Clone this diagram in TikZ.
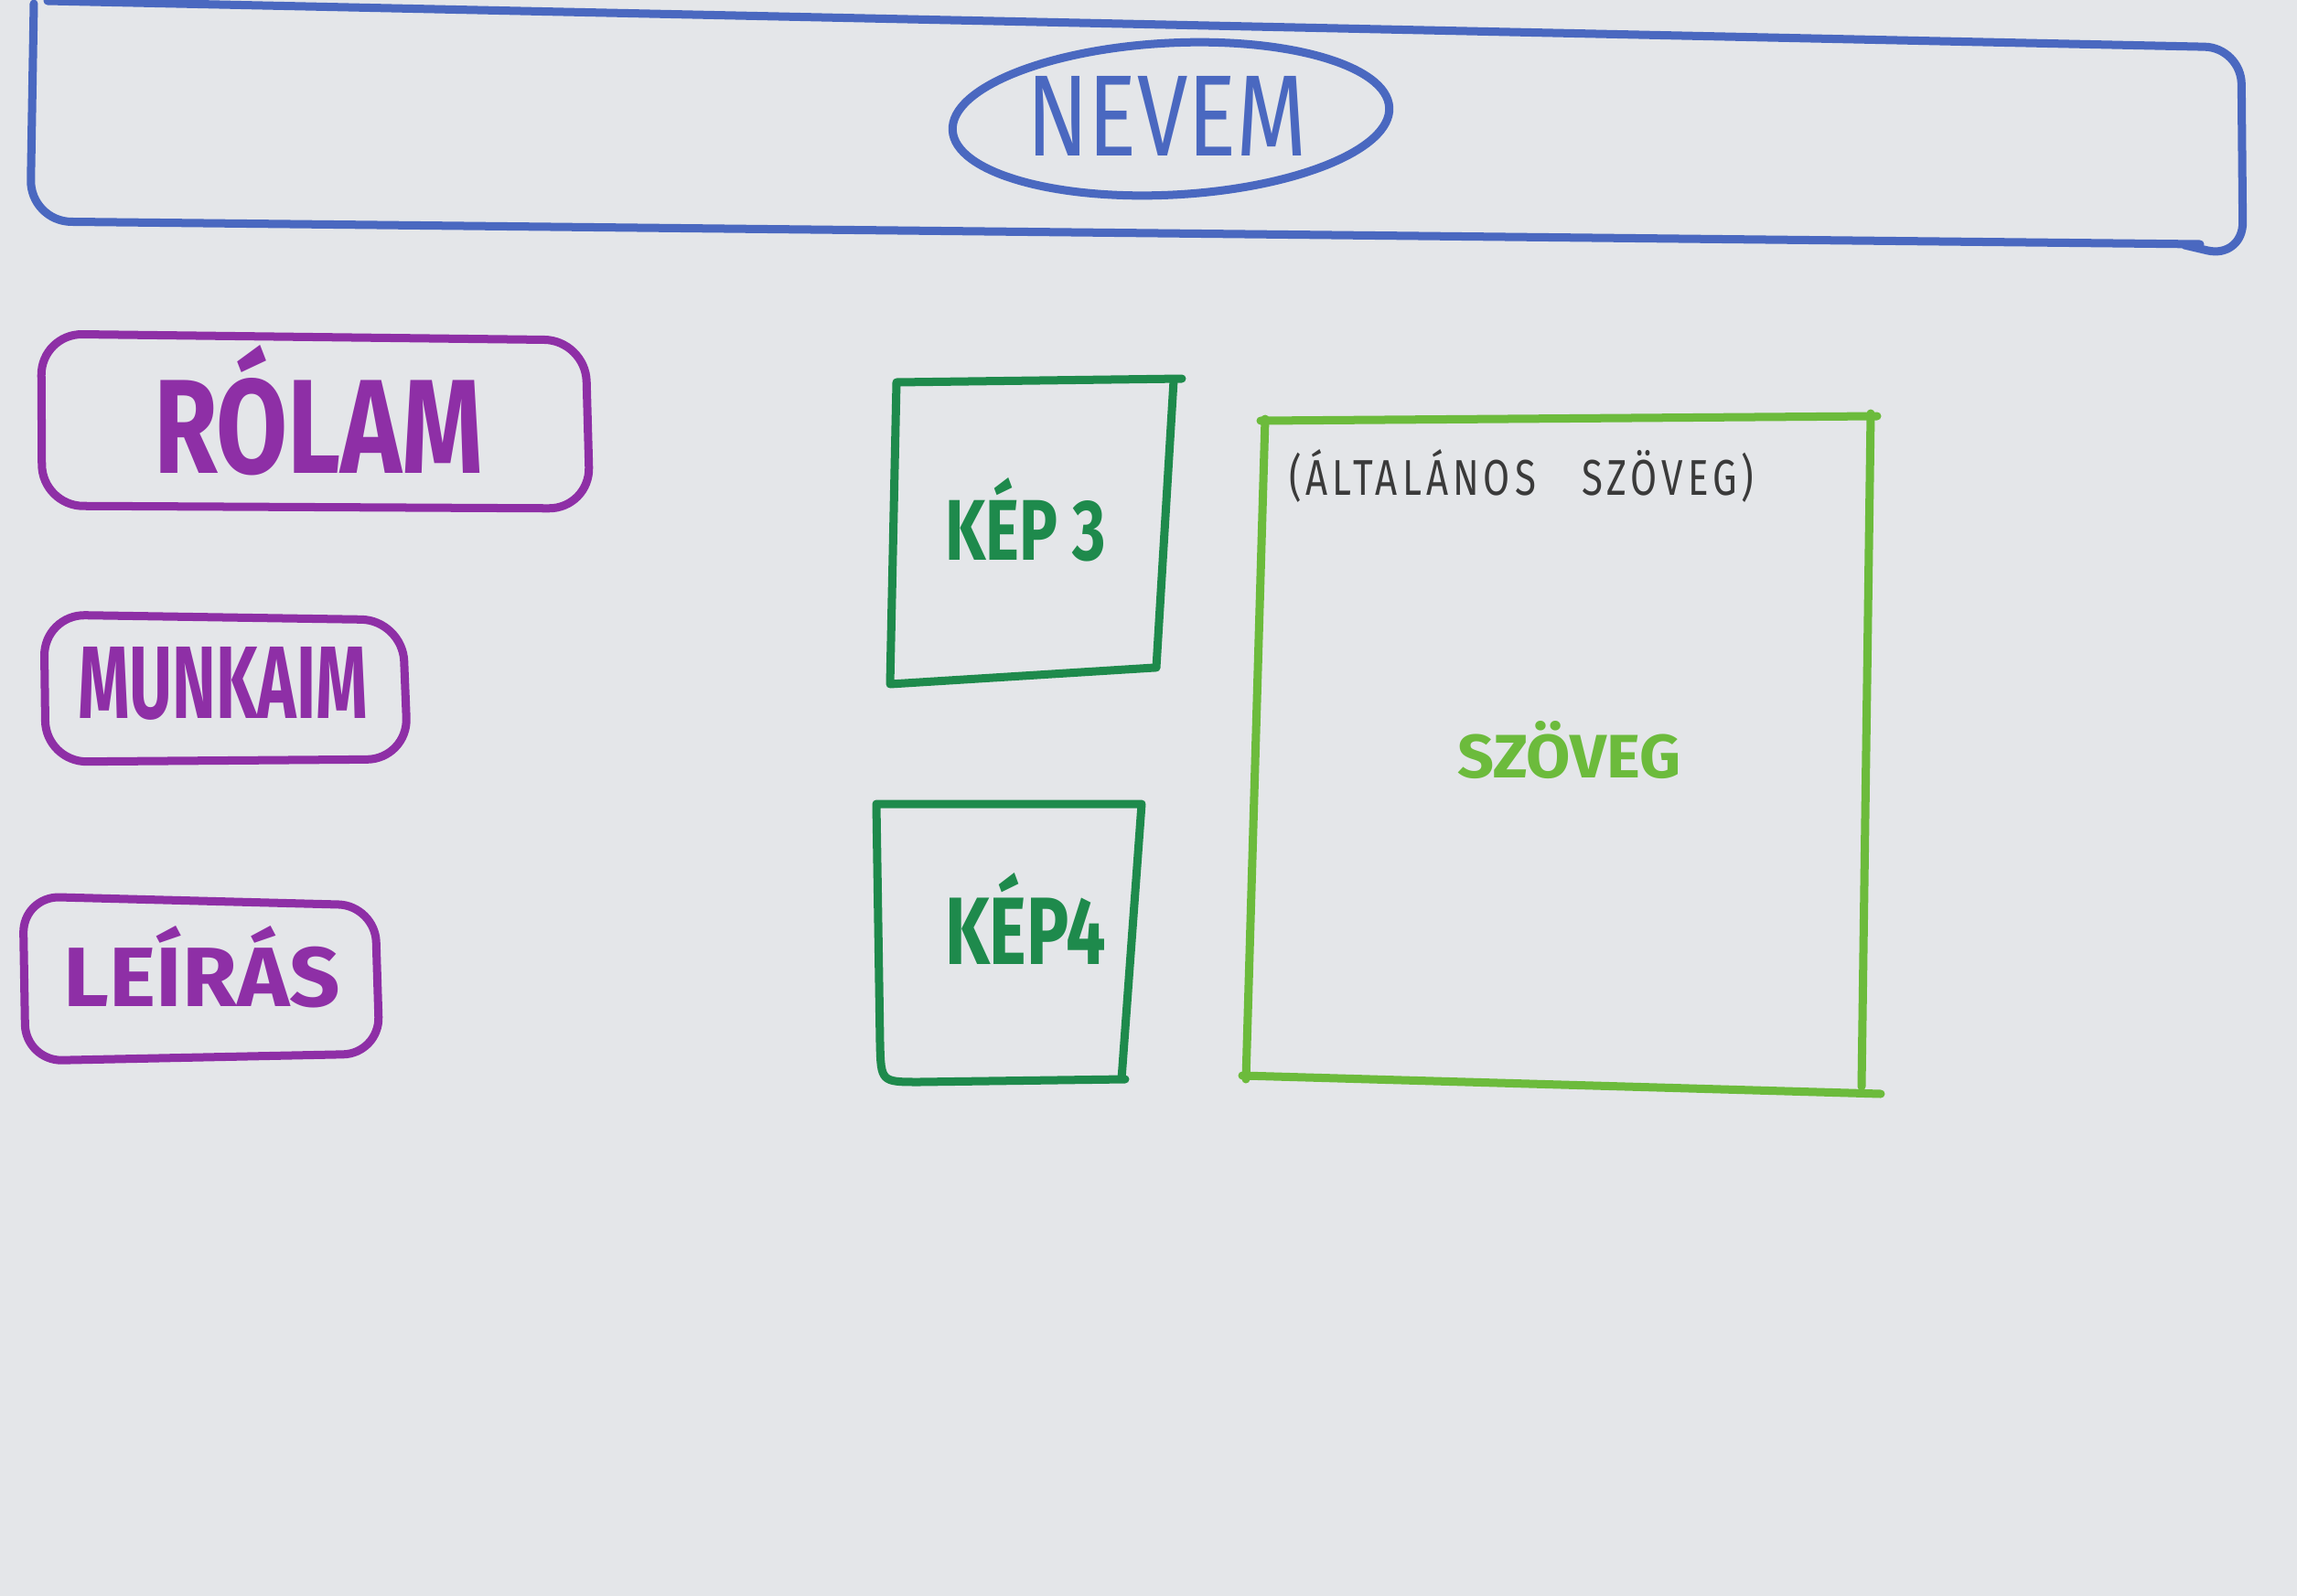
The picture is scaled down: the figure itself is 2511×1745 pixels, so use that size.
\documentclass[tikz,border=0pt]{standalone}
\usepackage{fontspec}
\setmainfont{Fira Sans}
\usepackage{graphicx}
\definecolor{paper}{HTML}{E4E6E9}
\definecolor{hblue}{HTML}{4A68C0}
\definecolor{mpurple}{HTML}{8E2FA6}
\definecolor{kgreen}{HTML}{1E8A4C}
\definecolor{lgreen}{HTML}{6CBB3C}
\definecolor{penink}{HTML}{3A3A3A}
\begin{document}
\begin{tikzpicture}[x=0.01cm,y=-0.01cm,
  pen/.style={line width=0.09cm, line cap=round, line join=round},
  blueline/.style={pen, draw=hblue},
  menubox/.style={pen, draw=mpurple},
  kepbox/.style={pen, draw=kgreen},
  txtbox/.style={pen, draw=lgreen},
  lbl/.style={inner sep=0pt, outer sep=0pt, anchor=base west}]
\useasboundingbox (0,0) rectangle (2511,1745);
\fill[paper] (0,0) rectangle (2511,1745);

% header
\draw[blueline, rounded corners=0.4cm] (52,1) -- (2450,52) -- (2452,283) -- (2388,268);
\draw[blueline, rounded corners=0.45cm] (37,4) -- (33,242) -- (2405,267);
\draw[blueline, rotate around={3:(1280,130)}] (1280,130) ellipse [x radius=239, y radius=83];
\node[lbl, text=hblue] (nevem) at (1122,170) {\resizebox{3.07cm}{0.87cm}{NEVEM}};

% menu
\draw[menubox, rounded corners=0.45cm] (45,365) -- (640,372) -- (645,556) -- (46,553) -- cycle;
\node[lbl, text=mpurple] (rolam) at (168,517) {\resizebox{3.60cm}{1.40cm}{\bfseries RÓLAM}};
\draw[menubox, rounded corners=0.45cm] (48,672) -- (440,678) -- (446,830) -- (50,833) -- cycle;
\node[lbl, text=mpurple] (munkaim) at (85,785) {\resizebox{3.17cm}{0.78cm}{\bfseries MUNKAIM}};
\draw[menubox, rounded corners=0.4cm] (25,980) -- (410,990) -- (415,1152) -- (28,1160) -- cycle;
\node[lbl, text=mpurple] (leiras) at (70,1100) {\resizebox{3.02cm}{0.88cm}{\bfseries LEÍRÁS}};

% images
\draw[kepbox] (1292,414) -- (980,418) -- (973,748) -- (1262,730);
\draw[kepbox] (1283,416) -- (1264,730);
\node[lbl, text=kgreen] (kep3) at (1033,612) {\resizebox{1.76cm}{0.90cm}{\bfseries KÉP 3}};
\draw[kepbox] (1226,1180) -- (1248,879) -- (958,879) -- (962,1140) .. controls (963,1183) .. (1005,1183) -- (1230,1180);
\node[lbl, text=kgreen] (kep4) at (1033,1054) {\resizebox{1.76cm}{1.00cm}{\bfseries KÉP4}};

% text box
\draw[txtbox] (1378,460) -- (2052,455);
\draw[txtbox] (1383,458) -- (1362,1180);
\draw[txtbox] (1358,1176) -- (2056,1196);
\draw[txtbox] (2045,452) -- (2035,1188);
\node[lbl, text=penink] (altalanos) at (1409,541) {\resizebox{5.08cm}{0.50cm}{\addfontfeature{LetterSpace=12}(ÁLTALÁNOS\hspace{1.2em}SZÖVEG)}};
\node[lbl, text=lgreen] (szoveg) at (1593,850) {\resizebox{2.44cm}{0.62cm}{\bfseries SZÖVEG}};
\end{tikzpicture}
\end{document}
